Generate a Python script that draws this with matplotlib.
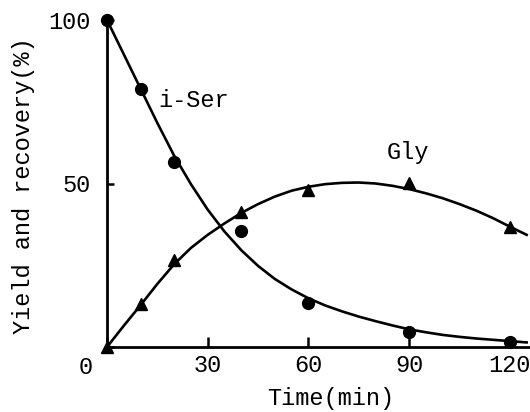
import matplotlib
matplotlib.use("Agg")
import matplotlib.pyplot as plt

plt.rcParams['font.family'] = ['Liberation Mono', 'DejaVu Sans Mono']

# measured points
t_pts = [0, 10, 20, 40, 60, 90, 120]
iser_pts = [100, 79, 56.5, 35.5, 13.5, 4.7, 1.6]
gly_pts = [0, 13, 26.5, 41.2, 48, 50.2, 36.8]

# smooth curves every 5 min
t_curve = [0, 5, 10, 15, 20, 25, 30, 35, 40, 45, 50, 55, 60, 65, 70, 75, 80,
           85, 90, 95, 100, 105, 110, 115, 120, 125]
iser_curve = [100, 89.5, 79, 68.5, 58.5, 49.8, 42, 35.3, 29.6, 24.8, 20.8,
              17.6, 14.9, 12.7, 10.9, 9.3, 7.9, 6.6, 5.4, 4.5, 3.7, 3.1, 2.6,
              2.2, 1.8, 1.4]
gly_curve = [0, 6.5, 12.8, 19.3, 25.3, 30.3, 34.3, 37.8, 41, 43.7, 46, 47.8,
             49, 49.8, 50.2, 50.3, 50, 49.3, 48.3, 47, 45.5, 43.7, 41.7, 39.4,
             36.8, 34.3]

fs = 17

fig = plt.figure(figsize=(5.3, 4.12), dpi=100)
ax = fig.add_axes([107 / 530, 65 / 412, 423 / 530, 327 / 412])

ax.plot(t_curve, iser_curve, color='black', lw=1.9, clip_on=False)
ax.plot(t_curve, gly_curve, color='black', lw=1.9, clip_on=False)
ax.plot(t_pts, iser_pts, 'o', color='black', ms=8.5, clip_on=False)
ax.plot(t_pts, gly_pts, '^', color='black', ms=8.5, clip_on=False)

ax.set_xlim(0, 126)
ax.set_ylim(0, 100)

for side in ['top', 'right']:
    ax.spines[side].set_visible(False)
for side in ['left', 'bottom']:
    ax.spines[side].set_linewidth(2)

ax.set_xticks([0, 30, 60, 90, 120])
ax.set_xticklabels(['', '30', '60', '90', '120'])
ax.set_yticks([0, 50, 100])
ax.set_yticklabels(['', '50', '100'])
ax.tick_params(axis='x', direction='in', length=7, width=1.8, labelsize=fs, pad=5)
ax.tick_params(axis='y', direction='in', length=5, width=1.8, labelsize=fs, pad=12)

ax.annotate('0', xy=(0, 0), xytext=(-15, -14.5), textcoords='offset points',
            ha='center', va='center', fontsize=fs)

ax.text(15.2, 75.5, 'i-Ser', fontsize=fs, va='center', ha='left')
ax.text(83.4, 59.6, 'Gly', fontsize=fs, va='center', ha='left')

fig.text(331 / 530, 1 - 399 / 412, 'Time(min)', fontsize=fs, ha='center', va='center')
fig.text(24 / 530, 1 - 186 / 412, 'Yield and recovery(%)', fontsize=fs,
         rotation=90, ha='center', va='center')

fig.savefig('out.png', dpi=100)
